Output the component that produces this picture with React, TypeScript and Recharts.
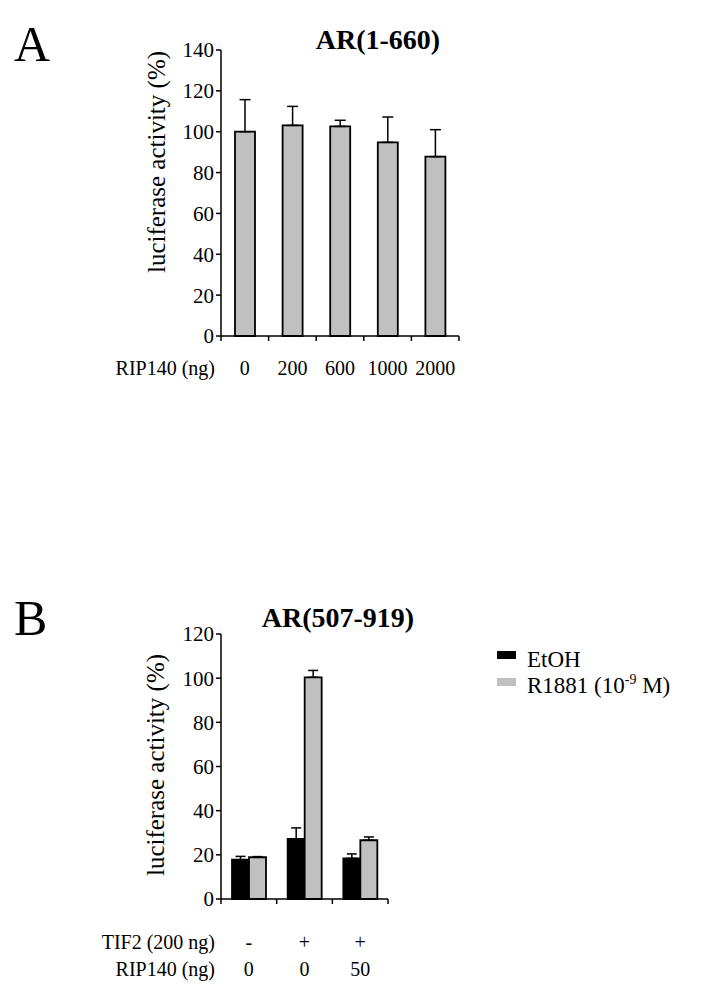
import React from "react";
import { Bar, BarChart, ErrorBar, XAxis, YAxis } from "recharts";

// panel A: AR(1-660)
const doseA = ["0", "200", "600", "1000", "2000"];
const activityA = [100, 103.1, 102.6, 94.8, 87.8];
const errA = [15.7, 9.3, 3.0, 12.4, 13.2];
const ticksA = [0, 20, 40, 60, 80, 100, 120, 140];

// panel B: AR(507-919)
const tif2B = ["-", "+", "+"];
const doseB = ["0", "0", "50"];
const etohB = [17.8, 27.2, 18.4];
const etohErrB = [1.5, 5.0, 2.0];
const r1881B = [18.9, 100.4, 26.6];
const r1881ErrB = [0.3, 3.1, 1.5];
const ticksB = [0, 20, 40, 60, 80, 100, 120];
const seriesB = ["EtOH", "R1881 (10^-9^ M)"];

const FONT = '"Liberation Serif", "Times New Roman", serif';
const GREY = "#c0c0c0";
const colorsB = ["#000", GREY];

const dataA = doseA.map((d, i) => ({
  dose: d,
  value: activityA[i],
  err: [0, errA[i]],
}));

const dataB = doseB.map((d, i) => ({
  key: String(i),
  tif2: tif2B[i],
  dose: d,
  etoh: etohB[i],
  etohErr: [0, etohErrB[i]],
  r1881: r1881B[i],
  r1881Err: [0, r1881ErrB[i]],
}));

const bandA = 238 / doseA.length;
const bandB = 167 / doseB.length;

const TickA = (props: any) => {
  const { x, y, payload, index } = props;
  const half = typeof payload.offset === "number" && payload.offset > 0 ? payload.offset : bandA / 2;
  return (
    <g>
      <line x1={x - half} x2={x - half} y1={y} y2={y + 5} stroke="#000" strokeWidth={1.5} />
      {index === doseA.length - 1 && (
        <line x1={x + half} x2={x + half} y1={y} y2={y + 5} stroke="#000" strokeWidth={1.5} />
      )}
      {index === 0 && (
        <text x={x - half - 6} y={y + 39} textAnchor="end" fontSize={20} fill="#000">
          RIP140 (ng)
        </text>
      )}
      <text x={x} y={y + 39} textAnchor="middle" fontSize={20} fill="#000">
        {payload.value}
      </text>
    </g>
  );
};

const TickB = (props: any) => {
  const { x, y, payload, index } = props;
  const half = typeof payload.offset === "number" && payload.offset > 0 ? payload.offset : bandB / 2;
  const row = dataB[index] || dataB[0];
  return (
    <g>
      <line x1={x - half} x2={x - half} y1={y} y2={y + 5} stroke="#000" strokeWidth={1.5} />
      {index === dataB.length - 1 && (
        <line x1={x + half} x2={x + half} y1={y} y2={y + 5} stroke="#000" strokeWidth={1.5} />
      )}
      {index === 0 && (
        <>
          <text x={x - half - 6} y={y + 50} textAnchor="end" fontSize={20} fill="#000">
            TIF2 (200 ng)
          </text>
          <text x={x - half - 6} y={y + 77} textAnchor="end" fontSize={20} fill="#000">
            RIP140 (ng)
          </text>
        </>
      )}
      <text x={x} y={y + 50} textAnchor="middle" fontSize={20} fill="#000">
        {row.tif2}
      </text>
      <text x={x} y={y + 77} textAnchor="middle" fontSize={20} fill="#000">
        {row.dose}
      </text>
    </g>
  );
};

const YLabel = ({ cx, cy }: { cx: number; cy: number }) => (
  <text
    x={cx}
    y={cy}
    transform={`rotate(-90, ${cx}, ${cy})`}
    textAnchor="middle"
    dominantBaseline="central"
    fontSize={25}
    fill="#000"
  >
    luciferase activity (%)
  </text>
);

const renderName = (name: string) => {
  const parts = name.split("^");
  if (parts.length < 3) return name;
  return (
    <>
      {parts[0]}
      <tspan dy={-9} fontSize={14}>
        {parts[1]}
      </tspan>
      <tspan dy={9}>{parts[2]}</tspan>
    </>
  );
};

export default function App() {
  return (
    <div
      style={{
        position: "absolute",
        left: 0,
        top: 0,
        width: 701,
        height: 1003,
        background: "#fff",
        fontFamily: FONT,
      }}
    >
      <svg
        width={701}
        height={1003}
        style={{ position: "absolute", left: 0, top: 0, pointerEvents: "none" }}
      >
        <text x={14} y={61} fontSize={50} fill="#000" fontFamily={FONT}>
          A
        </text>
        <text x={378} y={49} fontSize={28} fontWeight="bold" textAnchor="middle" fill="#000" fontFamily={FONT}>
          AR(1-660)
        </text>
        <text x={14} y={635} fontSize={50} fill="#000" fontFamily={FONT}>
          B
        </text>
        <text x={338} y={627} fontSize={28} fontWeight="bold" textAnchor="middle" fill="#000" fontFamily={FONT}>
          AR(507-919)
        </text>
        {/* legend of panel B */}
        {seriesB.map((name, i) => (
          <g key={name}>
            <rect x={497} y={651 + i * 27} width={19} height={8} fill={colorsB[i]} />
            <text x={527} y={667 + i * 26} fontSize={23} fill="#000" fontFamily={FONT}>
              {renderName(name)}
            </text>
          </g>
        ))}
      </svg>

      <div style={{ position: "absolute", left: 0, top: 0 }}>
        <BarChart
          width={701}
          height={400}
          data={dataA}
          margin={{ top: 50, right: 242, left: 161, bottom: 0 }}
          style={{ fontFamily: FONT }}
        >
          <XAxis
            dataKey="dose"
            height={64}
            interval={0}
            tickSize={0}
            tickMargin={0}
            tickLine={false}
            axisLine={{ stroke: "#000", strokeWidth: 1.5 }}
            tick={<TickA />}
          />
          <YAxis
            width={60}
            domain={[0, 140]}
            ticks={ticksA}
            interval={0}
            tickSize={5}
            tickMargin={2}
            axisLine={{ stroke: "#000", strokeWidth: 1.5 }}
            tickLine={{ stroke: "#000", strokeWidth: 1.5 }}
            tick={{ fill: "#000", fontSize: 21 }}
            label={{ content: () => <YLabel cx={156} cy={162} /> }}
          />
          <Bar
            dataKey="value"
            fill={GREY}
            stroke="#000"
            strokeWidth={1.8}
            barSize={20}
            isAnimationActive={false}
          >
            <ErrorBar dataKey="err" direction="y" width={5.5} stroke="#000" strokeWidth={1.5} />
          </Bar>
        </BarChart>
      </div>

      <div style={{ position: "absolute", left: 0, top: 560 }}>
        <BarChart
          width={701}
          height={443}
          data={dataB}
          margin={{ top: 74, right: 313, left: 161, bottom: 0 }}
          barGap={0}
          style={{ fontFamily: FONT }}
        >
          <XAxis
            dataKey="key"
            height={104}
            interval={0}
            tickSize={0}
            tickMargin={0}
            tickLine={false}
            axisLine={{ stroke: "#000", strokeWidth: 1.5 }}
            tick={<TickB />}
          />
          <YAxis
            width={60}
            domain={[0, 120]}
            ticks={ticksB}
            interval={0}
            tickSize={5}
            tickMargin={2}
            axisLine={{ stroke: "#000", strokeWidth: 1.5 }}
            tickLine={{ stroke: "#000", strokeWidth: 1.5 }}
            tick={{ fill: "#000", fontSize: 21 }}
            label={{ content: () => <YLabel cx={155} cy={205} /> }}
          />
          <Bar
            dataKey="etoh"
            name={seriesB[0]}
            fill="#000"
            stroke="#000"
            strokeWidth={1.8}
            barSize={17}
            isAnimationActive={false}
          >
            <ErrorBar dataKey="etohErr" direction="y" width={5} stroke="#000" strokeWidth={1.5} />
          </Bar>
          <Bar
            dataKey="r1881"
            name={seriesB[1]}
            fill={GREY}
            stroke="#000"
            strokeWidth={1.8}
            barSize={17}
            isAnimationActive={false}
          >
            <ErrorBar dataKey="r1881Err" direction="y" width={5} stroke="#000" strokeWidth={1.5} />
          </Bar>
        </BarChart>
      </div>
    </div>
  );
}
